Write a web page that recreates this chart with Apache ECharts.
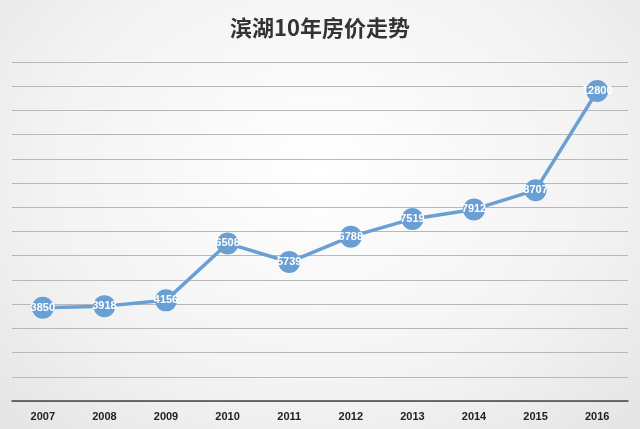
<!DOCTYPE html>
<html><head><meta charset="utf-8">
<script src="https://cdn.jsdelivr.net/npm/echarts@6/dist/echarts.min.js"></script>
<style>html,body{margin:0;padding:0}#c{width:640px;height:429px;background:radial-gradient(ellipse at 50% 40%,#ffffff 0%,#f3f3f3 60%,#e4e4e4 100%)}</style>
</head><body><div id="c"></div>
<script>
const years=['2007','2008','2009','2010','2011','2012','2013','2014','2015','2016'];
const prices=[3850,3918,4156,6508,5739,6788,7519,7912,8707,12800];
const chart=echarts.init(document.getElementById('c'));
chart.setOption({
  title:{text:'滨湖10年房价走势',left:'center',top:12,textStyle:{fontFamily:'Noto Sans CJK SC',fontSize:22,fontWeight:'bold',color:'#333'}},
  grid:{left:12,right:12,top:62,bottom:28},
  xAxis:{type:'category',data:years,boundaryGap:true,axisTick:{show:false},
    axisLine:{lineStyle:{color:'#444',width:1.5}},
    axisLabel:{color:'#222',fontSize:11,fontWeight:'bold',fontFamily:'Liberation Sans',margin:10}},
  yAxis:{type:'value',min:0,max:14000,interval:1000,axisLabel:{show:false},axisLine:{show:false},axisTick:{show:false},
    splitLine:{lineStyle:{color:'#b8b8b8',width:1}}},
  series:[{type:'line',data:prices,symbol:'circle',symbolSize:22,
    lineStyle:{color:'#6a9fd4',width:3.5},itemStyle:{color:'#6a9fd4'},
    label:{show:true,position:'inside',color:'#fff',fontWeight:'bold',fontSize:11,fontFamily:'Liberation Sans'}}]
});
</script></body></html>
